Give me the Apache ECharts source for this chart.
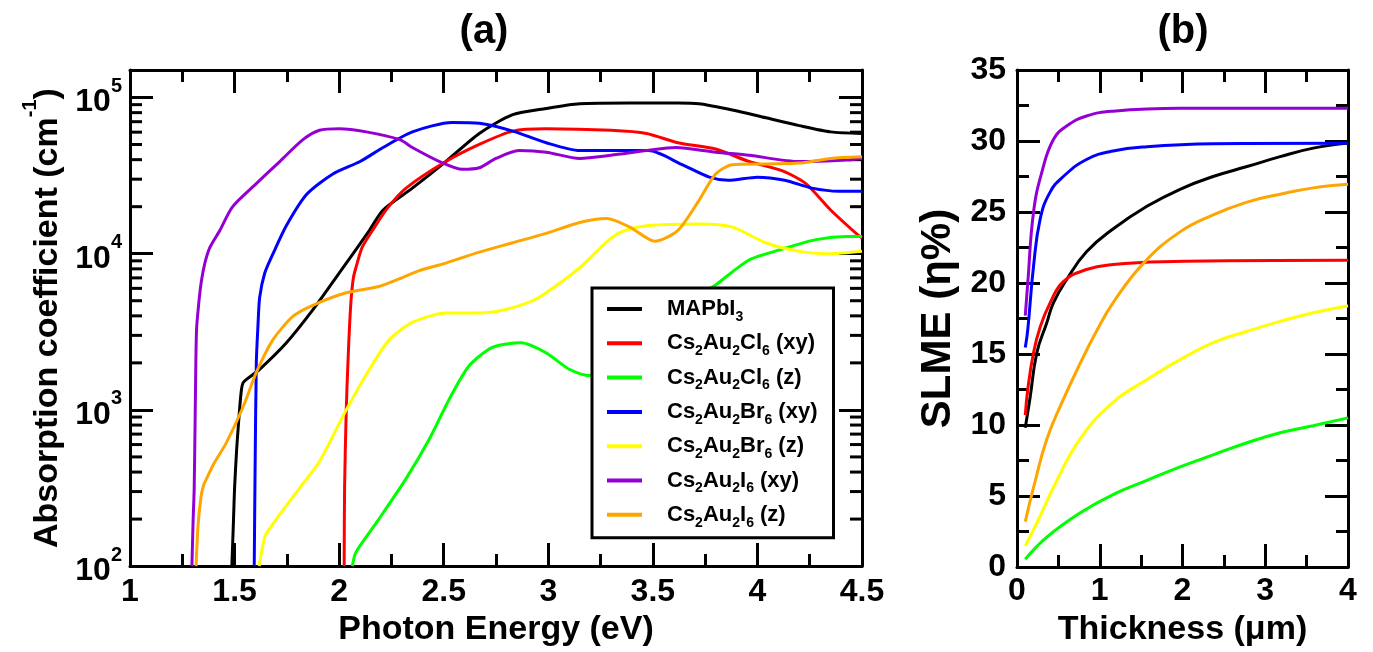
<!DOCTYPE html>
<html>
<head>
<meta charset="utf-8">
<script src="https://cdn.jsdelivr.net/npm/echarts@6/dist/echarts.min.js"></script>
<style>
html,body{margin:0;padding:0;background:#fff;}
#chart{width:1373px;height:652px;}
</style>
</head>
<body>
<div id="chart"></div>
<script>
// ---------- DATA ----------
const seriesNames = ['MAPbI3', 'Cs2Au2Cl6 (xy)', 'Cs2Au2Cl6 (z)', 'Cs2Au2Br6 (xy)', 'Cs2Au2Br6 (z)', 'Cs2Au2I6 (xy)', 'Cs2Au2I6 (z)'];
const legendLabels = [
  '{g| }{t|MAPbI}{s|3}',
  '{g| }{t|Cs}{s|2}{t|Au}{s|2}{t|Cl}{s|6}{t| (xy)}',
  '{g| }{t|Cs}{s|2}{t|Au}{s|2}{t|Cl}{s|6}{t| (z)}',
  '{g| }{t|Cs}{s|2}{t|Au}{s|2}{t|Br}{s|6}{t| (xy)}',
  '{g| }{t|Cs}{s|2}{t|Au}{s|2}{t|Br}{s|6}{t| (z)}',
  '{g| }{t|Cs}{s|2}{t|Au}{s|2}{t|I}{s|6}{t| (xy)}',
  '{g| }{t|Cs}{s|2}{t|Au}{s|2}{t|I}{s|6}{t| (z)}'
];
const colors = ['#000000', '#ff0000', '#00ff00', '#0000ff', '#ffff00', '#9400d3', '#ffa500'];

// Panel (a): absorption coefficient [photon energy (eV), alpha (cm^-1)]
const absMAPbI3 = [[1.487,100],[1.495,200],[1.50,316],[1.51,560],[1.517,760],[1.525,1050],[1.533,1350],[1.541,1494],[1.56,1580],[1.62,1820],[1.748,2690],[1.874,4365],[2.0,7500],[2.145,14125],[2.21,19055],[2.35,26303],[2.51,38905],[2.67,58884],[2.83,77625],[2.99,85114],[3.15,91201],[3.39,92257],[3.62,92257],[3.72,91201],[3.88,83176],[4.04,74131],[4.20,66069],[4.35,60256],[4.5,58884]];
const absClXY = [[2.024,100],[2.026,316],[2.034,1000],[2.042,2000],[2.05,3500],[2.058,5250],[2.068,7000],[2.08,8128],[2.11,10965],[2.16,14125],[2.23,19500],[2.32,26303],[2.51,38905],[2.67,50119],[2.83,60954],[2.99,63096],[3.30,61660],[3.47,58884],[3.62,51286],[3.80,46774],[3.96,38905],[4.12,33884],[4.23,28184],[4.35,19055],[4.48,13183],[4.5,12600]];
const absClZ = [[2.063,100],[2.075,118],[2.09,129],[2.19,200],[2.32,363],[2.43,646],[2.527,1175],[2.62,1905],[2.733,2512],[2.87,2692],[2.99,2317],[3.10,1820],[3.195,1660],[3.30,1700],[3.45,2300],[3.60,3700],[3.72,5400],[3.80,6310],[3.96,9120],[4.12,10715],[4.28,12303],[4.43,12882],[4.5,12882]];
const absBrXY = [[1.594,100],[1.598,400],[1.604,2000],[1.612,3500],[1.62,5250],[1.644,7500],[1.684,10000],[1.748,15136],[1.845,23988],[1.97,32359],[2.10,38905],[2.21,47863],[2.35,60256],[2.54,69183],[2.67,68391],[2.83,60954],[2.99,51286],[3.15,45709],[3.30,45709],[3.48,45709],[3.64,37154],[3.77,30903],[3.86,29512],[4.0,30903],[4.13,29512],[4.26,26303],[4.39,25119],[4.5,25119]];
const absBrZ = [[1.618,100],[1.63,125],[1.648,158],[1.70,200],[1.76,257],[1.811,316],[1.906,468],[2.034,1000],[2.145,1820],[2.24,2818],[2.35,3631],[2.51,4169],[2.62,4169],[2.75,4266],[2.91,4898],[2.99,5623],[3.15,8128],[3.30,12589],[3.37,14125],[3.48,15136],[3.72,15488],[3.88,14791],[4.04,11749],[4.20,10351],[4.35,10000],[4.5,10351]];
const absIXY = [[1.296,100],[1.302,200],[1.307,316],[1.312,1000],[1.318,3236],[1.33,5000],[1.342,6760],[1.358,8710],[1.382,10965],[1.43,14125],[1.49,19953],[1.605,28184],[1.716,38905],[1.827,53703],[1.906,61660],[2.0,63096],[2.13,60256],[2.29,53703],[2.35,47863],[2.48,38905],[2.59,34674],[2.67,35481],[2.75,40738],[2.86,45709],[2.99,44668],[3.15,40738],[3.30,42658],[3.47,45709],[3.61,47863],[3.80,44668],[3.96,42658],[4.20,38905],[4.43,39811],[4.5,40738]];
const absIZ = [[1.316,100],[1.325,180],[1.34,280],[1.352,330],[1.366,363],[1.40,450],[1.461,617],[1.541,1047],[1.604,1738],[1.684,2818],[1.78,3981],[1.874,4677],[2.034,5623],[2.19,6166],[2.29,6918],[2.38,7762],[2.51,8710],[2.67,10233],[2.83,11749],[2.99,13490],[3.15,15849],[3.28,16788],[3.39,14791],[3.51,12023],[3.62,14125],[3.72,21878],[3.80,32359],[3.88,37154],[4.04,37584],[4.20,38019],[4.35,40738],[4.5,41687]];

// Panel (b): SLME [thickness (um), efficiency (%)]
const slmeMAPbI3 = [[0.1,9.8],[0.16,12.0],[0.24,15.1],[0.36,17.2],[0.44,18.6],[0.6,20.25],[0.84,22.2],[1.16,23.8],[1.57,25.4],[1.97,26.6],[2.37,27.5],[2.78,28.2],[3.18,28.9],[3.58,29.5],[4.0,29.85]];
const slmeClXY = [[0.1,10.7],[0.13,12.5],[0.2,15.1],[0.28,16.9],[0.4,18.6],[0.56,20.1],[0.84,20.95],[1.16,21.3],[1.77,21.5],[4.0,21.6]];
const slmeClZ = [[0.1,0.55],[0.36,2.1],[0.76,3.8],[1.16,5.1],[1.57,6.1],[1.97,7.05],[2.37,7.9],[2.78,8.75],[3.18,9.45],[3.58,9.95],[4.0,10.5]];
const slmeBrXY = [[0.1,15.45],[0.13,16.7],[0.2,21.2],[0.28,24.5],[0.4,26.4],[0.56,27.5],[0.84,28.7],[1.16,29.3],[1.57,29.6],[2.37,29.8],[4.0,29.85]];
const slmeBrZ = [[0.1,1.5],[0.24,3.1],[0.44,5.6],[0.76,9.0],[1.16,11.6],[1.57,13.2],[1.97,14.6],[2.37,15.8],[2.78,16.6],[3.18,17.3],[3.58,17.9],[4.0,18.4]];
const slmeIXY = [[0.1,17.7],[0.13,20.0],[0.2,25.0],[0.3,27.8],[0.44,30.1],[0.6,31.05],[0.84,31.76],[1.16,32.1],[1.97,32.3],[4.0,32.3]];
const slmeIZ = [[0.1,3.2],[0.2,5.6],[0.36,9.0],[0.56,11.8],[0.76,14.3],[0.96,16.6],[1.16,18.6],[1.53,21.4],[1.97,23.6],[2.37,24.8],[2.78,25.7],[3.18,26.25],[3.58,26.7],[4.0,26.96]];

// minor tick values of the log axis
const logMinorTicks = [200,300,400,500,600,700,800,900,2000,3000,4000,5000,6000,7000,8000,9000,20000,30000,40000,50000,60000,70000,80000,90000];

const absData = [absMAPbI3, absClXY, absClZ, absBrXY, absBrZ, absIXY, absIZ];
const slmeData = [slmeMAPbI3, slmeClXY, slmeClZ, slmeBrXY, slmeBrZ, slmeIXY, slmeIZ];

// ---------- STYLE ----------
const FONT = '"Liberation Sans", Arial, Helvetica, sans-serif';
const BLK = '#000';
const tickFont = 32;

function frameAxis(extra) {
  const base = {
    axisLine: { show: true, onZero: false, lineStyle: { color: BLK, width: 3 } },
    axisTick: { show: true, inside: true, length: 23, lineStyle: { color: BLK, width: 3 } },
    minorTick: { show: true, splitNumber: 2, length: 12, lineStyle: { color: BLK, width: 3 } },
    splitLine: { show: false },
    minorSplitLine: { show: false },
    axisLabel: { show: false }
  };
  return Object.assign(base, extra);
}
const labelStyle = (margin) => ({ show: true, margin: margin, color: BLK, fontSize: tickFont, fontWeight: 'bold', fontFamily: FONT });
const logLabel = {
  show: true, margin: 8,
  formatter: function (v) {
    const e = Math.log10(v); const r = Math.round(e);
    if (Math.abs(e - r) > 1e-6) return '';
    return '{b|10}{s|' + r + '}';
  },
  rich: {
    b: { fontSize: tickFont, fontWeight: 'bold', fontFamily: FONT, color: BLK, lineHeight: 42, verticalAlign: 'bottom' },
    s: { fontSize: 20, fontWeight: 'bold', fontFamily: FONT, color: BLK, verticalAlign: 'top' }
  }
};

const option = {
  animation: false,
  backgroundColor: '#fff',
  title: [
    { text: '(a)', left: 484, top: 12, textAlign: 'center', padding: 0, textStyle: { fontSize: 40, fontWeight: 'bold', fontFamily: FONT, color: BLK } },
    { text: '(b)', left: 1183, top: 12, textAlign: 'center', padding: 0, textStyle: { fontSize: 40, fontWeight: 'bold', fontFamily: FONT, color: BLK } }
  ],
  grid: [
    { left: 130, right: 511, top: 70, bottom: 84 },
    { left: 1017, right: 25, top: 70, bottom: 85 }
  ],
  legend: {
    data: seriesNames,
    orient: 'vertical',
    left: 592, top: 288,
    padding: [10, 16, 8, 15],
    itemGap: 8.3,
    itemWidth: 35, itemHeight: 4,
    icon: 'rect',
    backgroundColor: '#fff',
    borderColor: BLK, borderWidth: 3,
    selectedMode: false,
    formatter: function (name) { return legendLabels[seriesNames.indexOf(name)]; },
    textStyle: {
      rich: {
        g: { width: 20, fontSize: 22 },
        t: { fontSize: 22, fontWeight: 'bold', fontFamily: FONT, color: BLK, lineHeight: 30 },
        s: { fontSize: 14, fontWeight: 'bold', fontFamily: FONT, color: BLK, verticalAlign: 'bottom' }
      }
    }
  },
  xAxis: [
    frameAxis({ gridIndex: 0, type: 'value', position: 'bottom', min: 1, max: 4.5, interval: 0.5,
      axisLabel: labelStyle(10),
      name: 'Photon Energy (eV)', nameLocation: 'middle', nameGap: 46,
      nameTextStyle: { fontSize: 34, fontWeight: 'bold', fontFamily: FONT, color: BLK } }),
    frameAxis({ gridIndex: 0, type: 'value', position: 'top', min: 1, max: 4.5, interval: 0.5 }),
    frameAxis({ gridIndex: 1, type: 'value', position: 'bottom', min: 0, max: 4, interval: 1,
      axisLabel: labelStyle(8),
      name: 'Thickness (\u03bcm)', nameLocation: 'middle', nameGap: 46,
      nameTextStyle: { fontSize: 34, fontWeight: 'bold', fontFamily: FONT, color: BLK } }),
    frameAxis({ gridIndex: 1, type: 'value', position: 'top', min: 0, max: 4, interval: 1 })
  ],
  yAxis: [
    frameAxis({ gridIndex: 0, type: 'log', logBase: 10, position: 'left', min: 100, max: 150000,
      minorTick: { show: false },
      axisLabel: logLabel,
      name: '{t|Absorption coefficient (cm}{s|-1}{t|)}', nameLocation: 'middle', nameGap: 62,
      nameTextStyle: { rich: {
        t: { fontSize: 34, fontWeight: 'bold', fontFamily: FONT, color: BLK, lineHeight: 44, verticalAlign: 'bottom' },
        s: { fontSize: 20, fontWeight: 'bold', fontFamily: FONT, color: BLK, verticalAlign: 'top' }
      } } }),
    frameAxis({ gridIndex: 0, type: 'log', logBase: 10, position: 'right', min: 100, max: 150000, minorTick: { show: false } }),
    frameAxis({ gridIndex: 1, type: 'value', position: 'left', min: 0, max: 35, interval: 5,
      axisLabel: labelStyle(11),
      name: 'SLME (\u03b7%)', nameLocation: 'middle', nameGap: 58,
      nameTextStyle: { fontSize: 42, fontWeight: 'bold', fontFamily: FONT, color: BLK } }),
    frameAxis({ gridIndex: 1, type: 'value', position: 'right', min: 0, max: 35, interval: 5 })
  ],
  series: []
};

seriesNames.forEach(function (name, i) {
  option.series.push({
    name: name, type: 'line', xAxisIndex: 0, yAxisIndex: 0,
    data: absData[i], showSymbol: false, symbol: 'none',
    smooth: 0.25,
    lineStyle: { color: colors[i], width: 3 }, itemStyle: { color: colors[i] }
  });
});
seriesNames.forEach(function (name, i) {
  option.series.push({
    name: name, type: 'line', xAxisIndex: 2, yAxisIndex: 2,
    data: slmeData[i], showSymbol: false, symbol: 'none',
    smooth: 0.45,
    lineStyle: { color: colors[i], width: 3 }, itemStyle: { color: colors[i] }
  });
});
// minor ticks (2..9 x 10^n) on the log axis, left and right
option.series.push({
  name: 'logMinor', type: 'custom', xAxisIndex: 0, yAxisIndex: 0, silent: true, clip: false,
  data: logMinorTicks.map(function (v) { return [1, v]; }),
  renderItem: function (params, api) {
    const y = api.coord([1, api.value(1)])[1];
    const cs = params.coordSys;
    return { type: 'group', children: [
      { type: 'line', shape: { x1: cs.x, y1: y, x2: cs.x + 12, y2: y }, style: { stroke: BLK, lineWidth: 3 } },
      { type: 'line', shape: { x1: cs.x + cs.width - 12, y1: y, x2: cs.x + cs.width, y2: y }, style: { stroke: BLK, lineWidth: 3 } }
    ] };
  }
});

const chart = echarts.init(document.getElementById('chart'), null, { renderer: 'canvas' });
chart.setOption(option);
</script>
</body>
</html>
